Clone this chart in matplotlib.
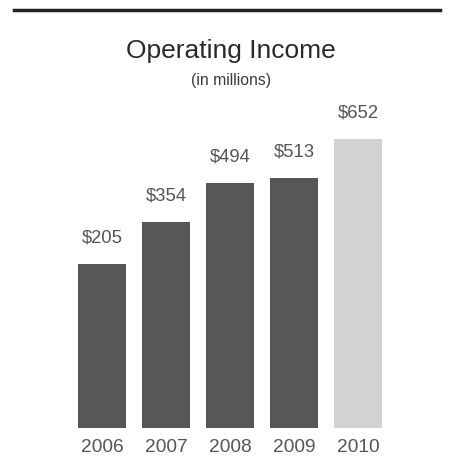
import numpy as np
import matplotlib
matplotlib.use("Agg")
from matplotlib import pyplot as plt

plt.rcParams['font.family'] = ['Liberation Sans', 'DejaVu Sans']

# data (in millions)
years = ["2006", "2007", "2008", "2009", "2010"]
income = [205, 354, 494, 513, 652]
value_labels = ["$205", "$354", "$494", "$513", "$652"]

bar_colors = ["#575757", "#575757", "#575757", "#575757", "#d2d2d2"]
text_color = "#555555"

# the printed chart does not start at zero, the bars rise from a lower base
base = -384

fig = plt.figure(figsize=(4.62, 4.69), dpi=100)
fig.patch.set_facecolor("white")

ax = fig.add_axes([38 / 462, 41 / 469, 384 / 462, 328 / 469])
x = np.arange(len(years))
heights = np.array(income) - base
ax.bar(x, heights, bottom=base, width=0.75, color=bar_colors)

for xi, v, lab in zip(x, income, value_labels):
    ax.annotate(lab, (xi, v), xytext=(0, 26), textcoords="offset pixels",
                ha="center", va="center", fontsize=13.3, color=text_color)

ax.set_xlim(-1, 5)
ax.set_ylim(base, base + 328 / 0.2792)
ax.set_xticks(x)
ax.set_xticklabels(years, fontsize=13.8, color=text_color)
ax.tick_params(axis="x", length=0, pad=8)
ax.set_yticks([])
for s in ax.spines.values():
    s.set_visible(False)
ax.patch.set_alpha(0)

# header rule, title and subtitle
fig.add_artist(plt.Line2D([14 / 462, 440 / 462], [1 - 10 / 469, 1 - 10 / 469],
                          color="#222222", linewidth=2.5))
fig.text(0.5, 1 - 51 / 469, "Operating Income", ha="center", va="center",
         fontsize=19, color="#2a2a2a")
fig.text(0.5, 1 - 80 / 469, "(in millions)", ha="center", va="center",
         fontsize=11.3, color="#3a3a3a")

plt.savefig("out.png", dpi=100)
